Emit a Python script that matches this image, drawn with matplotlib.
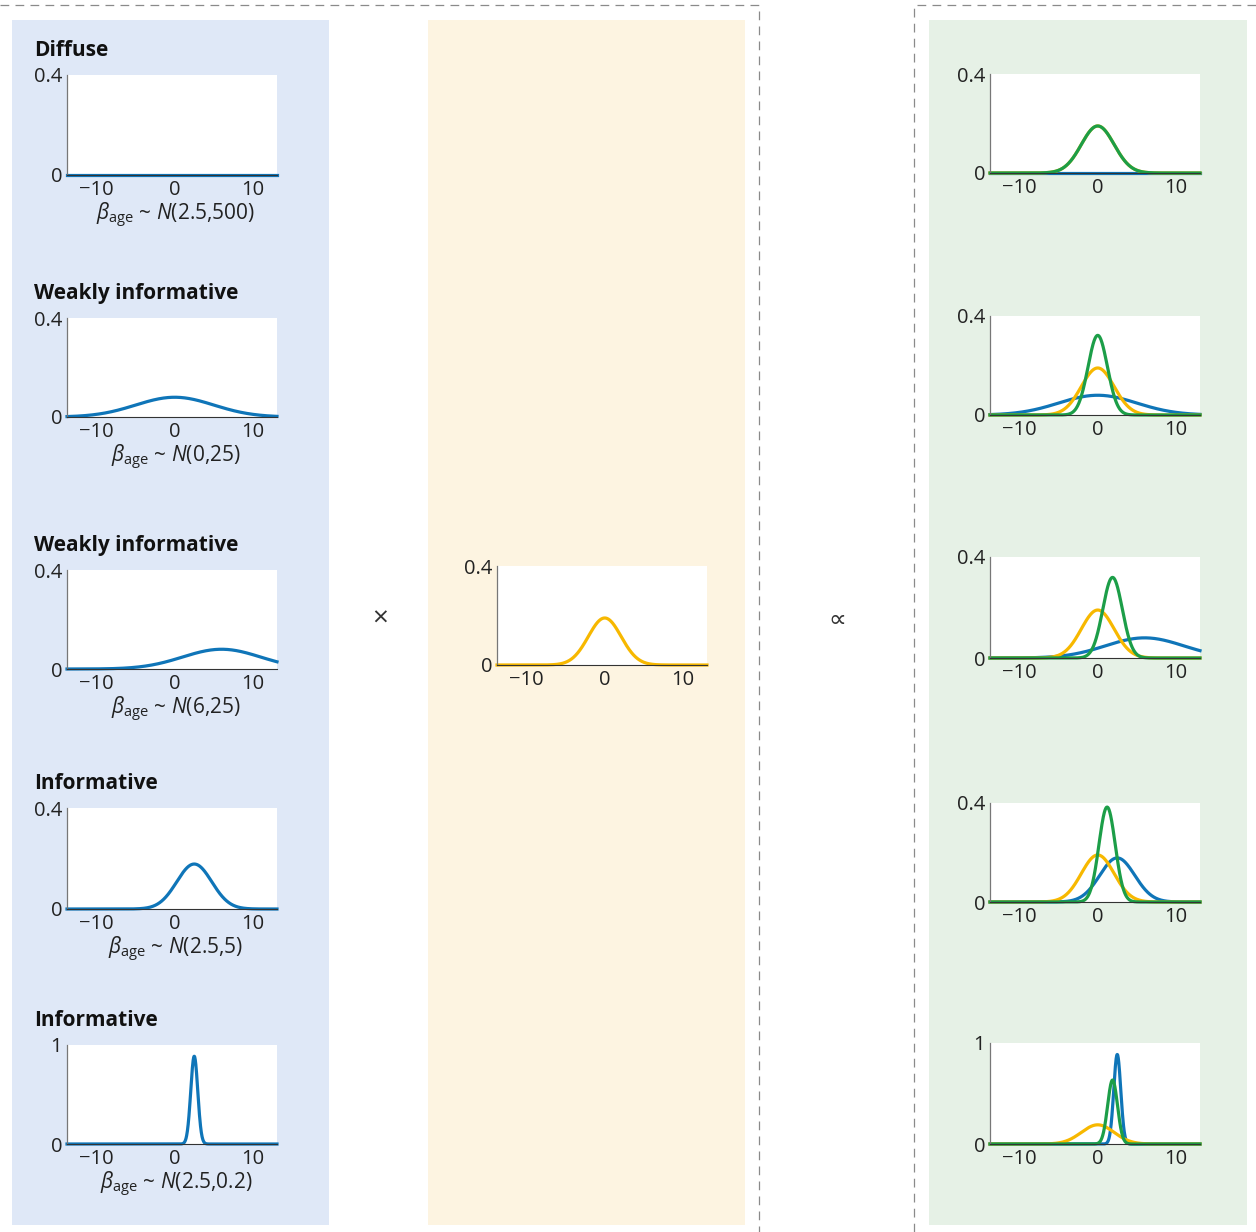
import numpy as np
import matplotlib.pyplot as plt
from matplotlib.patches import Rectangle
from matplotlib.lines import Line2D

plt.rcParams['font.family'] = ['Open Sans', 'DejaVu Sans']
plt.rcParams['mathtext.fontset'] = 'custom'
plt.rcParams['mathtext.rm'] = 'Open Sans'
plt.rcParams['mathtext.it'] = 'Open Sans:italic'

# prior column (left)
prior_titles = ['Diffuse', 'Weakly informative', 'Weakly informative', 'Informative', 'Informative']
prior_labels = ['N(2.5,500)', 'N(0,25)', 'N(6,25)', 'N(2.5,5)', 'N(2.5,0.2)']
prior_mean = [2.5, 0, 6, 2.5, 2.5]
prior_sd = [300, 5, 5, 2.24, 0.45]   # sd as drawn in the figure
y_top = [0.4, 0.4, 0.4, 0.4, 1]
y_top_labels = ['0.4', '0.4', '0.4', '0.4', '1']

# likelihood (middle)
lik_mean = 0
lik_sd = 2.1

# posterior (right)
post_mean = [0, 0, 1.9, 1.2, 1.9]
post_sd = [2.1, 1.24, 1.25, 1.04, 0.63]

x_ticks = [-10, 0, 10]
x_tick_labels = ['\u221210', '0', '10']

BLUE = '#0f75b8'
YELLOW = '#f7b800'
GREEN = '#1c9e48'

W, H = 1256, 1232
XL = (-13.8, 13.1)


def rect(x0, y0, x1, y1):
    return [x0 / W, 1 - y1 / H, (x1 - x0) / W, (y1 - y0) / H]


def npdf(x, m, s):
    return np.exp(-0.5 * ((x - m) / s) ** 2) / (s * np.sqrt(2 * np.pi))


def style(ax, top, toplabel):
    ax.set_xlim(XL)
    ax.set_ylim(0, top)
    ax.set_facecolor('white')
    ax.spines['top'].set_visible(False)
    ax.spines['right'].set_visible(False)
    ax.spines['left'].set_color('#777777')
    ax.spines['left'].set_linewidth(0.9)
    ax.spines['bottom'].set_color('#333333')
    ax.spines['bottom'].set_linewidth(0.8)
    ax.set_xticks(x_ticks)
    ax.set_xticklabels(x_tick_labels)
    ax.set_yticks([0, top])
    ax.set_yticklabels(['0', toplabel])
    ax.tick_params(length=0, labelsize=14.5, pad=3.5, colors='#222222')


fig = plt.figure(figsize=(W / 100, H / 100), dpi=100)

# coloured panels
fig.add_artist(Rectangle((12 / W, 1 - 1225 / H), 317 / W, 1205 / H, transform=fig.transFigure,
                         facecolor='#dfe8f7', edgecolor='none', zorder=-1))
fig.add_artist(Rectangle((428 / W, 1 - 1225 / H), 317 / W, 1205 / H, transform=fig.transFigure,
                         facecolor='#fdf4e1', edgecolor='none', zorder=-1))
fig.add_artist(Rectangle((929 / W, 1 - 1225 / H), 318 / W, 1205 / H, transform=fig.transFigure,
                         facecolor='#e6f1e6', edgecolor='none', zorder=-1))

# dashed frame lines
dash = dict(color='#8a8a8a', lw=0.9, linestyle=(0, (7, 5)), transform=fig.transFigure)
fig.add_artist(Line2D([0, 759 / W, 759 / W], [1 - 5 / H, 1 - 5 / H, 0], **dash))
fig.add_artist(Line2D([914 / W, 914 / W, 1], [0, 1 - 5 / H, 1 - 5 / H], **dash))

x = np.linspace(XL[0], XL[1], 800)

left_rows = [(75, 175), (318, 417), (570, 669), (808, 909), (1045, 1144)]
right_rows = [(74, 173), (316, 415), (557, 658), (803, 902), (1043, 1144)]

for i in range(5):
    t, b = left_rows[i]
    ax = fig.add_axes(rect(67, t, 277, b))
    style(ax, y_top[i], y_top_labels[i])
    ax.plot(x, npdf(x, prior_mean[i], prior_sd[i]), color=BLUE, lw=2.3, clip_on=False)
    fig.text(34 / W, 1 - (t - 19) / H, prior_titles[i], fontsize=15, fontweight='bold',
             color='#111111', ha='left', va='baseline')
    fig.text(176 / W, 1 - (b + 40) / H, r'$\beta_{\mathrm{age}}$ ~ $N$' + prior_labels[i][1:],
             fontsize=15, color='#222222', ha='center', va='center')

    t, b = right_rows[i]
    ax = fig.add_axes(rect(990, t, 1200, b))
    style(ax, y_top[i], y_top_labels[i])
    ax.plot(x, npdf(x, prior_mean[i], prior_sd[i]), color=BLUE, lw=2.3, clip_on=False)
    ax.plot(x, npdf(x, lik_mean, lik_sd), color=YELLOW, lw=2.3, clip_on=False)
    ax.plot(x, npdf(x, post_mean[i], post_sd[i]), color=GREEN, lw=2.3, clip_on=False)

# likelihood
ax = fig.add_axes(rect(497, 566, 707, 665))
style(ax, 0.4, '0.4')
ax.plot(x, npdf(x, lik_mean, lik_sd), color=YELLOW, lw=2.3, clip_on=False)

fig.text(380 / W, 1 - 620 / H, '\u00d7', fontsize=20, color='#333333', ha='center', va='center')
fig.text(837 / W, 1 - 620 / H, '\u221d', fontsize=18, color='#333333', ha='center', va='center')

fig.savefig('out.png', dpi=100)
